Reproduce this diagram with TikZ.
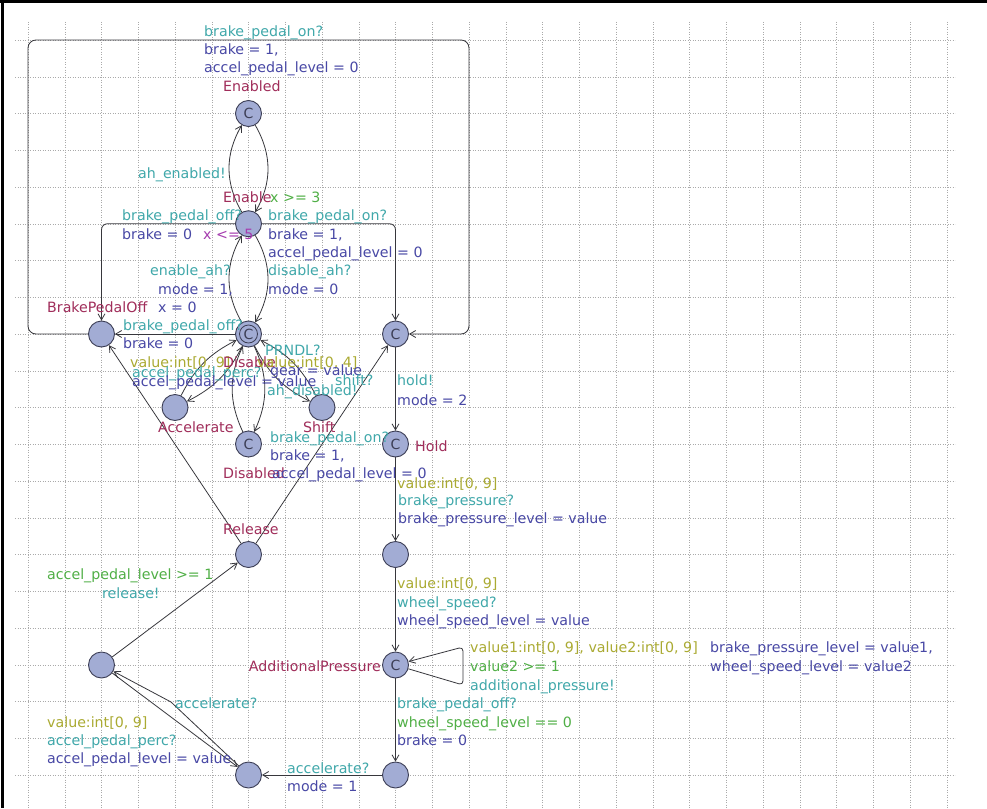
\documentclass[tikz,border=0pt]{standalone}
\usepackage{fontspec}
\setmainfont{DejaVu Sans}
\usetikzlibrary{arrows.meta}
\definecolor{syncc}{RGB}{64,168,170}
\definecolor{assc}{RGB}{72,72,165}
\definecolor{namec}{RGB}{160,45,90}
\definecolor{guardc}{RGB}{80,175,70}
\definecolor{selc}{RGB}{170,170,50}
\definecolor{invc}{RGB}{165,60,175}
\definecolor{locfill}{RGB}{162,172,212}
\definecolor{locdraw}{RGB}{60,62,85}
\definecolor{edgec}{RGB}{55,55,60}
\definecolor{gridc}{RGB}{170,170,170}
\begin{document}
\begin{tikzpicture}[x=1pt,y=-1pt,
  loc/.style={circle, draw=locdraw, fill=locfill, line width=0.9pt, minimum size=26pt, inner sep=0pt, font=\fontsize{14}{14}\selectfont, text=locdraw},
  tr/.style={draw=edgec, line width=0.8pt, -{Straight Barb[length=6pt,width=7pt]}},
  lbl/.style={anchor=base west, inner sep=0pt, font=\fontsize{14.2}{17}\selectfont},
  lsync/.style={lbl, text=syncc},
  lass/.style={lbl, text=assc},
  lname/.style={lbl, text=namec},
  lguard/.style={lbl, text=guardc},
  lsel/.style={lbl, text=selc},
  linv/.style={lbl, text=invc},
  gridl/.style={draw=gridc, line width=0.5pt, dotted}
]
\useasboundingbox (0,0) rectangle (987,808);
\fill[white] (0,0) rectangle (987,808);
% grid
\foreach \k in {0,...,25} \draw[gridl] ({28+36.75*\k},22) -- ({28+36.75*\k},808);
\foreach \k in {0,...,20} \draw[gridl] (15,{40+36.75*\k}) -- (955,{40+36.75*\k});
% frame
\draw[line width=3pt] (0,2) -- (987,2);
\draw[line width=3pt] (2,0) -- (2,808);

% locations
\node[loc] (End) at (248.5,113.5) {C};
\node[loc] (Ena) at (248.5,223.75) {};
\node[loc] (Dis) at (248.5,334) {};
\draw[locdraw, line width=0.8pt] (Dis.center) circle (9pt);
\node[font=\fontsize{14}{14}\selectfont, text=locdraw, inner sep=0pt] (DisC) at (248.5,334) {C};
\node[loc] (BPO) at (101.5,334) {};
\node[loc] (RC) at (395.5,334) {C};
\node[loc] (Acc) at (175,407.5) {};
\node[loc] (Sh) at (322,407.5) {};
\node[loc] (Dsd) at (248.5,444) {C};
\node[loc] (Hold) at (395.5,444) {C};
\node[loc] (Rel) at (248.5,554.5) {};
\node[loc] (N1) at (395.5,554.5) {};
\node[loc] (AP) at (395.5,665) {C};
\node[loc] (N4) at (101.5,665) {};
\node[loc] (N2) at (395.5,775) {};
\node[loc] (N3) at (248.5,775) {};

% transitions
\draw[tr, rounded corners=8pt] (BPO.west) -- (28,334) -- (28,40) -- (469,40) -- (469,334) -- (RC.east);
\draw[tr] (Ena) to[bend left=30] (End);
\draw[tr] (End) to[bend left=30] (Ena);
\draw[tr] (Dis) to[bend left=30] (Ena);
\draw[tr] (Ena) to[bend left=30] (Dis);
\draw[tr, rounded corners=6pt] (Ena) -| (BPO);
\draw[tr, rounded corners=6pt] (Ena) -| (RC);
\draw[tr] (Dis) -- (BPO);
\draw[tr] (Acc) to[bend left=18] (Dis);
\draw[tr] (Dis) to[bend left=18] (Acc);
\draw[tr] (Sh) to[bend right=18] (Dis);
\draw[tr] (Dis) to[bend right=18] (Sh);
\draw[tr] (Dsd) to[bend left=25] (Dis);
\draw[tr] (Dis) to[bend left=25] (Dsd);
\draw[tr] (RC) -- (Hold);
\draw[tr] (Hold) -- (N1);
\draw[tr] (N1) -- (AP);
\draw[tr, rounded corners=4pt] (AP) -- (463,685) -- (463,647) -- (AP);
\draw[tr] (AP) -- (N2);
\draw[tr] (N2) -- (N3);
\draw[tr] (N3) -- (171,702) -- (N4);
\draw[tr] (N4) -- (N3);
\draw[tr] (N4) -- (Rel);
\draw[tr] (Rel) -- (BPO);
\draw[tr] (Rel) -- (RC);

% labels
\node[lsync] (t1) at (204,37) {brake\_pedal\_on?};
\node[lass] (t2) at (204,55) {brake = 1,};
\node[lass] (t3) at (204,73) {accel\_pedal\_level = 0};
\node[lname] (t4) at (223,92) {Enabled};
\node[lsync] (t5) at (138,178) {ah\_enabled!};
\node[lname] (t6) at (223,202) {Enable};
\node[lguard] (t7) at (270,202) {x >= 3};
\node[lsync] (t8) at (122,220) {brake\_pedal\_off?};
\node[lass] (t9) at (122,239) {brake = 0};
\node[linv] (t10) at (203,239) {x <= 5};
\node[lsync] (t11) at (268,220) {brake\_pedal\_on?};
\node[lass] (t12) at (268,239) {brake = 1,};
\node[lass] (t13) at (268,257) {accel\_pedal\_level = 0};
\node[lsync] (t14) at (150,275) {enable\_ah?};
\node[lass] (t15) at (158,294) {mode = 1,};
\node[lsync] (t16) at (268,275) {disable\_ah?};
\node[lass] (t17) at (268,294) {mode = 0};
\node[lname] (t18) at (47,312) {BrakePedalOff};
\node[lass] (t19) at (158,312) {x = 0};
\node[lsync] (t20) at (123,330) {brake\_pedal\_off?};
\node[lass] (t21) at (123,348) {brake = 0};
\node[lsel] (t22) at (130,367) {value:int[0, 9]};
\node[lsync] (t23) at (132,377) {accel\_pedal\_perc?};
\node[lass] (t24) at (132,386) {accel\_pedal\_level = value};
\node[lname] (t25) at (223,367) {Disable};
\node[lsync] (t26) at (265,355) {PRNDL?};
\node[lsel] (t27) at (257,367) {value:int[0, 4]};
\node[lass] (t28) at (270,375) {gear = value};
\node[lsync] (t29) at (335,385) {shift?};
\node[lsync] (t30) at (267,395) {ah\_disabled!};
\node[lname] (t31) at (158,432) {Accelerate};
\node[lname] (t32) at (303,432) {Shift};
\node[lsync] (t33) at (270,442) {brake\_pedal\_on?};
\node[lass] (t34) at (270,460) {brake = 1,};
\node[lname] (t35) at (223,478) {Disabled};
\node[lass] (t36) at (272,478) {accel\_pedal\_level = 0};
\node[lsync] (t37) at (397,385) {hold!};
\node[lass] (t38) at (397,405) {mode = 2};
\node[lname] (t39) at (415,451) {Hold};
\node[lsel] (t40) at (397,488) {value:int[0, 9]};
\node[lsync] (t41) at (398,505) {brake\_pressure?};
\node[lass] (t42) at (398,523) {brake\_pressure\_level = value};
\node[lname] (t43) at (223,534) {Release};
\node[lsel] (t44) at (397,588) {value:int[0, 9]};
\node[lsync] (t45) at (397,607) {wheel\_speed?};
\node[lass] (t46) at (397,625) {wheel\_speed\_level = value};
\node[lguard] (t47) at (47,579) {accel\_pedal\_level >= 1};
\node[lsync] (t48) at (102,598) {release!};
\node[lname, anchor=base east] (t49) at (381,671) {AdditionalPressure};
\node[lsel] (t50) at (470,652) {value1:int[0, 9], value2:int[0, 9]};
\node[lguard] (t51) at (470,671) {value2 >= 1};
\node[lsync] (t52) at (470,690) {additional\_pressure!};
\node[lass] (t53) at (710,652) {brake\_pressure\_level = value1,};
\node[lass] (t54) at (710,671) {wheel\_speed\_level = value2};
\node[lsync] (t55) at (397,708) {brake\_pedal\_off?};
\node[lguard] (t56) at (397,727) {wheel\_speed\_level == 0};
\node[lass] (t57) at (397,745) {brake = 0};
\node[lsync] (t58) at (175,708) {accelerate?};
\node[lsel] (t59) at (47,727) {value:int[0, 9]};
\node[lsync] (t60) at (47,745) {accel\_pedal\_perc?};
\node[lass] (t61) at (47,763) {accel\_pedal\_level = value};
\node[lsync] (t62) at (287,773) {accelerate?};
\node[lass] (t63) at (287,791) {mode = 1};
\end{tikzpicture}
\end{document}
